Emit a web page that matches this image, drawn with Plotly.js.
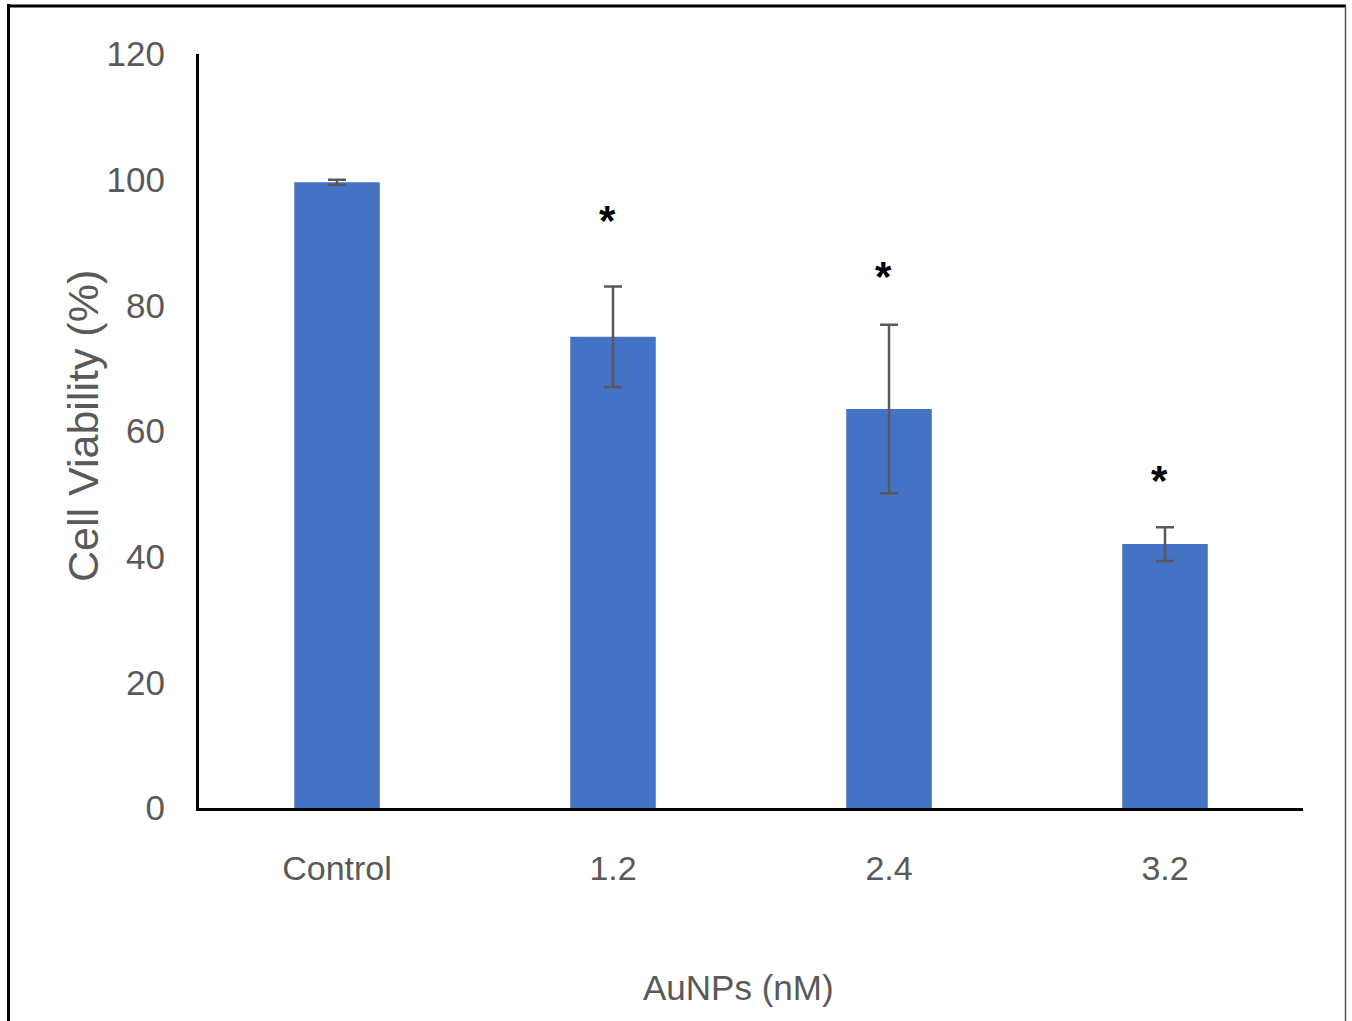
<!DOCTYPE html>
<html>
<head>
<meta charset="utf-8">
<script src="https://cdn.plot.ly/plotly-3.0.1.min.js"></script>
<style>body{margin:0;padding:0;background:#fff}#chart{width:1352px;height:1021px}</style>
</head>
<body>
<div id="chart"></div>
<script>
const categories = ["Control", "1.2", "2.4", "3.2"];
const viability = [99.6, 75.0, 63.5, 42.0];
const errors = [0.4, 8.0, 13.4, 2.7];
const significance = ["", "*", "*", "*"];
const starLevels = [null, 94.5, 85.5, 53.0];
const yTicks = [0, 20, 40, 60, 80, 100, 120];

const FONT = "'Liberation Sans', Arial, sans-serif";
const GRAY = "#595959";

const trace = {
  type: "bar",
  x: categories,
  y: viability,
  width: 0.31,
  marker: {color: "#4472C4"},
  error_y: {type: "data", array: errors, visible: true, color: GRAY, thickness: 2.5, width: 9},
  hoverinfo: "skip",
  showlegend: false
};

const annotations = [];
categories.forEach((c, i) => {
  if (significance[i]) {
    annotations.push({x: i, y: starLevels[i], xref: "x", yref: "y", text: "<b>" + significance[i] + "</b>",
      showarrow: false, xshift: -6, yshift: -6, font: {family: FONT, size: 42, color: "#000"},
      yanchor: "middle", xanchor: "center"});
  }
});
annotations.push({x: (738 - 199) / 1104, y: (808 - 987) / 754, xref: "paper", yref: "paper",
  text: "AuNPs (nM)", showarrow: false, xanchor: "center", yanchor: "middle",
  font: {family: FONT, size: 35, color: GRAY}});
annotations.push({x: (83 - 199) / 1104, y: (808 - 426) / 754, xref: "paper", yref: "paper",
  text: "Cell Viability (%)", showarrow: false, textangle: -90, xanchor: "center", yanchor: "middle",
  font: {family: FONT, size: 43, color: GRAY}});

const layout = {
  width: 1352, height: 1021,
  margin: {l: 199, r: 49, t: 54, b: 213},
  paper_bgcolor: "#fff", plot_bgcolor: "#fff",
  font: {family: FONT, color: GRAY},
  xaxis: {
    type: "category", categoryorder: "array", categoryarray: categories,
    showline: true, linecolor: "#000", linewidth: 3, ticks: "", showgrid: false, zeroline: false,
    tickfont: {family: FONT, size: 34, color: GRAY}, ticklabelstandoff: 28, fixedrange: true
  },
  yaxis: {
    range: [0, 120], tickvals: yTicks, ticktext: yTicks.map(String),
    showline: true, linecolor: "#000", linewidth: 3, ticks: "", showgrid: false, zeroline: false,
    tickfont: {family: FONT, size: 35, color: GRAY}, ticklabelstandoff: 24, fixedrange: true
  },
  annotations: annotations,
  shapes: [
    {type: "line", xref: "paper", yref: "paper", x0: (8.5 - 199) / 1104, x1: (8.5 - 199) / 1104, y0: (808 - 4) / 754, y1: (808 - 1030) / 754, line: {color: "#000", width: 3}},
    {type: "line", xref: "paper", yref: "paper", x0: (7 - 199) / 1104, x1: (1346 - 199) / 1104, y0: (808 - 6) / 754, y1: (808 - 6) / 754, line: {color: "#000", width: 3}},
    {type: "line", xref: "paper", yref: "paper", x0: (1345.5 - 199) / 1104, x1: (1345.5 - 199) / 1104, y0: (808 - 6) / 754, y1: (808 - 1030) / 754, line: {color: "#555", width: 1.5}}
  ]
};

Plotly.newPlot("chart", [trace], layout, {displayModeBar: false, staticPlot: true});
</script>
</body>
</html>
